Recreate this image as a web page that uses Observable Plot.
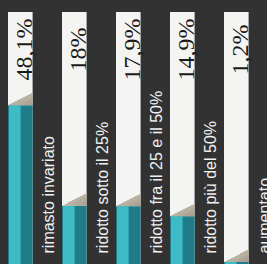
<!DOCTYPE html>
<html><head><meta charset="utf-8">
<script src="https://cdn.jsdelivr.net/npm/d3@7"></script>
<script src="https://cdn.jsdelivr.net/npm/@observablehq/plot@0.6"></script>
<style>html,body{margin:0;padding:0;background:#323232;overflow:hidden}</style>
</head><body><div id="chart"></div>
<script>
const categories = ["rimasto invariato", "ridotto sotto il 25%", "ridotto fra il 25 e il 50%", "ridotto più del 50%", "aumentato"];
const values = [48.1, 18, 17.9, 14.9, 1.2];
const valueLabels = ["48,1%", "18%", "17,9%", "14,9%", "1,2%"];
const yMax = 76;

const data = categories.map((c, i) => ({category: c, value: values[i], label: valueLabels[i]}));
const gap = 29.4;

const chart = Plot.plot({
  width: 267, height: 264, margin: 0,
  style: {background: "#323232", overflow: "hidden"},
  x: {type: "band", domain: categories, range: [7.3, 277.8], padding: 0, axis: null},
  y: {domain: [0, yMax], range: [266, 12], axis: null},
  marks: [
    Plot.barY(data, {x: "category", y1: 0, y2: () => yMax, fill: "#f4f4f2", insetRight: gap}),
    Plot.barY(data, {x: "category", y1: 0, y2: "value", fill: "#1f7c88", insetRight: gap}),
    Plot.barY(data, {x: "category", y1: 0, y2: "value", fill: "#3dbcc6", insetLeft: 1, insetRight: gap + 12}),
    Plot.barY(data, {x: "category", y1: "value", y2: d => d.value + 3.8, fill: "url(#wedge)", insetRight: gap}),
    Plot.text(data, {x: "category", text: "label", rotate: -90, frameAnchor: "top", dy: 49, dx: -4,
      lineAnchor: "bottom", textAnchor: "middle",
      fontFamily: "'Liberation Serif', 'Times New Roman', serif", fontSize: 24, fill: "#1a1a1a"}),
    Plot.text(data, {x: "category", text: "category", rotate: -90, frameAnchor: "bottom", dy: -11, dx: 18,
      lineAnchor: "bottom", textAnchor: "start",
      fontFamily: "'Liberation Sans', Arial, sans-serif", fontSize: 16, fill: "#f0f0f0"})
  ]
});

const ns = "http://www.w3.org/2000/svg";
const defs = document.createElementNS(ns, "defs");
defs.innerHTML = `<linearGradient id="wedge" x1="0" y1="0" x2="1" y2="1">
  <stop offset="0.5" stop-color="#f4f4f2"/><stop offset="0.5" stop-color="#bdb5a6"/>
  <stop offset="1" stop-color="#a39b8c"/></linearGradient>`;
chart.insertBefore(defs, chart.firstChild);
document.getElementById("chart").appendChild(chart);
</script></body></html>
